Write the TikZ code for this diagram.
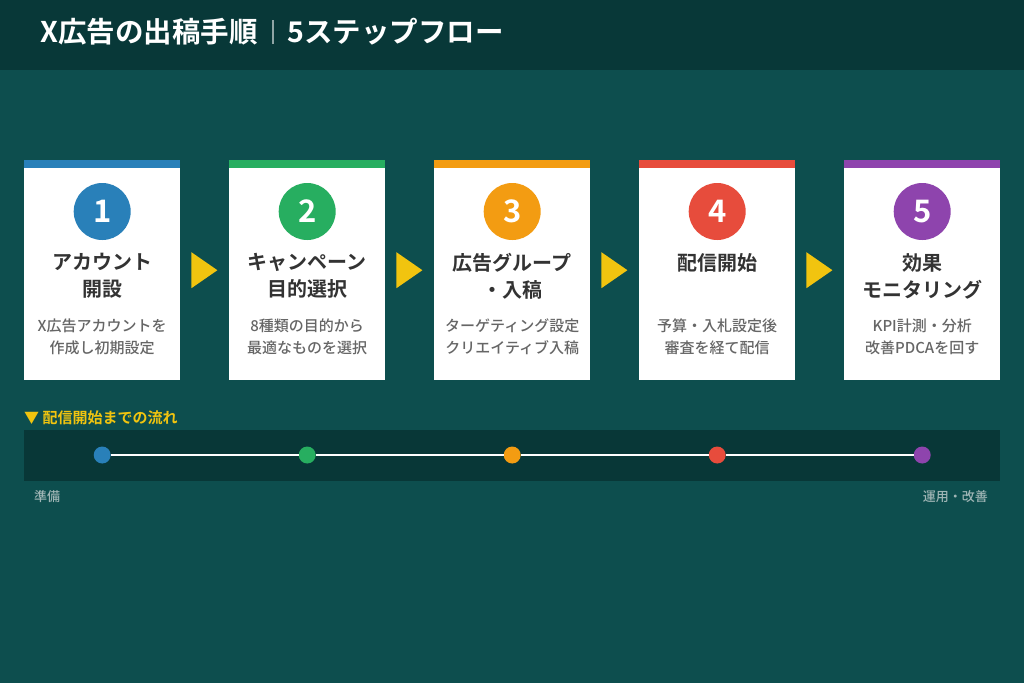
\documentclass[tikz,border=0pt]{standalone}
\usepackage{fontspec}
\setmainfont{Noto Sans CJK JP}[BoldFont={Noto Sans CJK JP Bold}]
\newfontfamily\medfont{Noto Sans CJK JP Medium}
\usetikzlibrary{calc}
\definecolor{bgc}{HTML}{0D4E4E}
\definecolor{hdc}{HTML}{083838}
\definecolor{barc}{HTML}{083737}
\definecolor{cblue}{HTML}{2980B9}
\definecolor{cgreen}{HTML}{27AE60}
\definecolor{corange}{HTML}{F39C12}
\definecolor{cred}{HTML}{E74C3C}
\definecolor{cpurple}{HTML}{8E44AD}
\definecolor{yel}{HTML}{F1C40F}
\definecolor{ttlc}{HTML}{333333}
\definecolor{dscc}{HTML}{666666}
\definecolor{lblc}{HTML}{9FB5B5}
\tikzset{
  card/.style={fill=white, minimum width=156pt, minimum height=220pt, inner sep=0pt, anchor=north west},
  numc/.style={circle, minimum size=57pt, inner sep=0pt, text=white, font=\bfseries\fontsize{31}{31}\selectfont},
  ttl/.style={anchor=north, align=center, inner sep=0pt, text=ttlc, font=\bfseries\fontsize{20}{27}\selectfont},
  dsc/.style={anchor=north, align=center, inner sep=0pt, text=dscc, font=\medfont\fontsize{15}{22}\selectfont},
  tdot/.style={circle, minimum size=17pt, inner sep=0pt},
  lbl/.style={inner sep=0pt, text=lblc, font=\medfont\fontsize{13}{13}\selectfont},
  tri/.style={fill=yel},
  htitle/.style={anchor=base west, inner sep=0pt, text=white, font=\bfseries\fontsize{28.5}{28.5}\selectfont}
}
\begin{document}
\begin{tikzpicture}[x=1pt,y=-1pt]
\fill[bgc] (0,0) rectangle (1024,683);
\fill[hdc] (0,0) rectangle (1024,70);
\node[htitle] (title1) at (40,42.5) {X広告の出稿手順};
\node[htitle] (title2) at (287,42.5) {5ステップフロー};
\draw[white, opacity=0.55, line width=1.5pt] (273,20) -- (273,44);
\foreach \i/\col/\ttl/\dsc in {
 0/cblue/{アカウント\\開設}/{X広告アカウントを\\作成し初期設定},
 1/cgreen/{キャンペーン\\目的選択}/{8種類の目的から\\最適なものを選択},
 2/corange/{広告グループ\\・入稿}/{ターゲティング設定\\クリエイティブ入稿},
 3/cred/{配信開始}/{予算・入札設定後\\審査を経て配信},
 4/cpurple/{効果\\モニタリング}/{KPI計測・分析\\改善PDCAを回す}}
{
 \pgfmathsetmacro\lx{24+205*\i}
 \pgfmathtruncatemacro\n{\i+1}
 \node[card] (card\n) at (\lx,160) {};
 \fill[\col] (card\n.north west) rectangle ([yshift=-8pt]card\n.north east);
 \node[numc, fill=\col] (num\n) at ([yshift=-51.5pt]card\n.north) {\n};
 \node[ttl] (ttl\n) at ([yshift=-93pt]card\n.north) {\ttl};
 \node[dsc] (dsc\n) at ([yshift=-159pt]card\n.north) {\dsc};
}
\foreach \a in {1,2,3,4}{
 \fill[tri] ($(card\a.east)+(11,-18)$) -- ++(0,36) -- ++(26,-18) -- cycle;
}
\node[anchor=west, inner sep=0pt, text=yel, font=\bfseries\fontsize{15}{15}\selectfont] (tlhead) at (24,418) {▼ 配信開始までの流れ};
\node[fill=barc, minimum width=976pt, minimum height=51pt, inner sep=0pt] (tlbar) at (512,455.5) {};
\foreach \i/\col in {1/cblue,2/cgreen,3/corange,4/cred,5/cpurple}{
 \node[tdot, fill=\col] (dot\i) at (card\i.center |- 0,455) {};
}
\foreach \a/\b in {1/2,2/3,3/4,4/5}{
 \draw[white, line width=2pt] (dot\a) -- (dot\b);
}
\node[lbl, anchor=west] (lstart) at (34,497) {準備};
\node[lbl, anchor=east] (lend) at (988,497) {運用・改善};
\end{tikzpicture}
\end{document}
